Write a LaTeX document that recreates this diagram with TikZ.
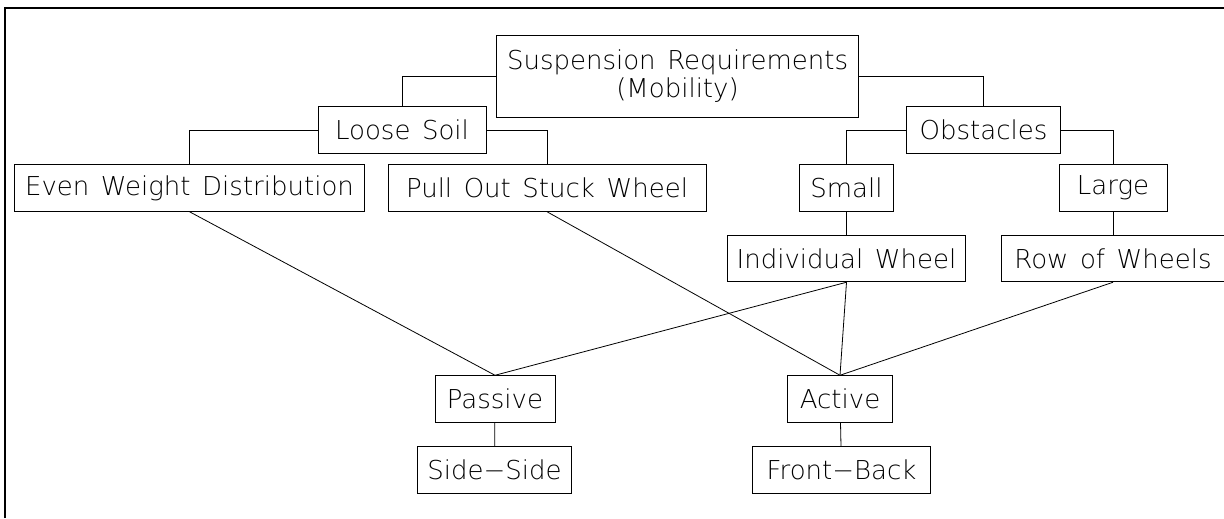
\documentclass[tikz,border=0pt]{standalone}
\usepackage{fontspec}
\newfontfamily\plotfont{DejaVuSans-ExtraLight.ttf}[WordSpace=1.4]
\tikzset{every picture/.style={line width=0.6pt}}
\tikzset{req/.style={draw, minimum height=35pt, inner sep=0pt, align=center, font=\plotfont\fontsize{19.5}{21}\selectfont}}

\begin{document}
\begin{tikzpicture}[x=0.75pt,y=0.75pt,yscale=-1,xscale=1]
\useasboundingbox (0,0) rectangle (1224,518);

%Frame
\draw [line width=1.8pt]  (5,518) -- (5,8) -- (1224,8) ;

%Shape: Rectangle [root]
\node [req, minimum width=271pt, minimum height=61pt] (root) at (677.5,76.5) {Suspension Requirements\\(Mobility)};
%Shape: Rectangle [level 1]
\node [req, minimum width=126pt] (loose) at (402,130) {Loose Soil};
\node [req, minimum width=115pt] (obst) at (983.5,130) {Obstacles};
%Shape: Rectangle [level 2]
\node [req, minimum width=263pt] (even) at (189.5,188) {Even Weight Distribution};
\node [req, minimum width=238.5pt] (pull) at (547,188) {Pull Out Stuck Wheel};
\node [req, minimum width=70pt] (small) at (846.5,188) {Small};
\node [req, minimum width=81pt] (large) at (1113,188) {Large};
%Shape: Rectangle [level 3]
\node [req, minimum width=179pt] (indiv) at (846.5,258.5) {Individual Wheel};
\node [req, minimum width=168pt] (row) at (1113,258.5) {Row of Wheels};
%Shape: Rectangle [level 4]
\node [req, minimum width=90pt] (passive) at (495,399) {Passive};
\node [req, minimum width=79pt] (active) at (840,399) {Active};
%Shape: Rectangle [level 5]
\node [req, minimum width=116pt] (side) at (494.5,470) {Side−Side};
\node [req, minimum width=133pt] (front) at (841.5,470) {Front−Back};

%Straight Lines [tree]
\draw    (root.west) -| (loose.north) ;
\draw    (root.east) -| (obst.north) ;
\draw    (loose.west) -| (even.north) ;
\draw    (loose.east) -| (pull.north) ;
\draw    (obst.west) -| (small.north) ;
\draw    (obst.east) -| (large.north) ;
\draw    (small) -- (indiv) ;
\draw    (large) -- (row) ;
%Straight Lines [cross links]
\draw    (even.south) -- (passive.north) ;
\draw    (indiv.south) -- (passive.north) ;
\draw    (pull.south) -- (active.north) ;
\draw    (indiv.south) -- (active.north) ;
\draw    (row.south) -- (active.north) ;
\draw    (passive) -- (side) ;
\draw    (active) -- (front) ;

\end{tikzpicture}
\end{document}
